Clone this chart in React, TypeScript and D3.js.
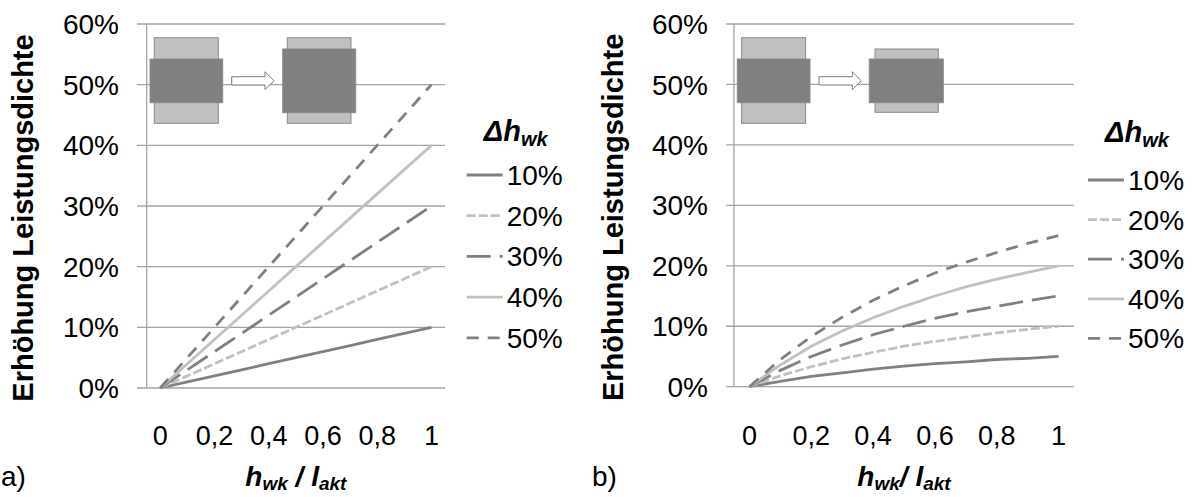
import React from "react";
import * as d3 from "d3";

// x categories (h_wk / l_akt), every second one is labelled
const xValues = [0, 0.1, 0.2, 0.3, 0.4, 0.5, 0.6, 0.7, 0.8, 0.9, 1];
const xTickLabels = ["0", "", "0,2", "", "0,4", "", "0,6", "", "0,8", "", "1"];
const yTicks = [0, 0.1, 0.2, 0.3, 0.4, 0.5, 0.6];
const seriesNames = ["10%", "20%", "30%", "40%", "50%"];

// a) values in %
const a10 = [0, 1, 2, 3, 4, 5, 6, 7, 8, 9, 10];
const a20 = [0, 2, 4, 6, 8, 10, 12, 14, 16, 18, 20];
const a30 = [0, 3, 6, 9, 12, 15, 18, 21, 24, 27, 30];
const a40 = [0, 4, 8, 12, 16, 20, 24, 28, 32, 36, 40];
const a50 = [0, 5, 10, 15, 20, 25, 30, 35, 40, 45, 50];

// b) values in %
const b10 = [0, 0.9, 1.7, 2.3, 2.9, 3.4, 3.8, 4.1, 4.5, 4.7, 5.0];
const b20 = [0, 1.8, 3.3, 4.6, 5.7, 6.7, 7.5, 8.2, 8.9, 9.5, 10.0];
const b30 = [0, 2.7, 5.0, 6.9, 8.6, 10.0, 11.3, 12.4, 13.3, 14.2, 15.0];
const b40 = [0, 3.6, 6.7, 9.2, 11.4, 13.3, 15.0, 16.5, 17.8, 18.9, 20.0];
const b50 = [0, 4.5, 8.3, 11.5, 14.3, 16.7, 18.8, 20.6, 22.2, 23.7, 25.0];

const DARK = "#808080";
const LIGHT = "#c0c0c0";
const GRID = "#a3a3a3";
const FONT = "'Liberation Sans', Arial, sans-serif";

const lineStyles = [
  { color: DARK, dash: null },
  { color: LIGHT, dash: "9,3" },
  { color: DARK, dash: "24,9" },
  { color: LIGHT, dash: null },
  { color: DARK, dash: "12,9" },
];

const panels = [
  {
    label: "a)",
    labelX: 1,
    series: [a10, a20, a30, a40, a50],
    axisX: 146.7,
    gridX0: 137,
    gridX1: 445,
    yBottom: 388,
    yTop: 24,
    yTitleX: 33,
    tickEndX: 119,
    legendX: 466.7,
    legendY0: 175,
    legendStep: 40.7,
    titleY: 141,
    slash: " / ",
    block2: { light: [140.6, 37.7, 63.7, 85.6], dark: [136, 49, 73, 63.7] },
  },
  {
    label: "b)",
    labelX: 592,
    series: [b10, b20, b30, b40, b50],
    axisX: 734,
    gridX0: 726,
    gridX1: 1074,
    yBottom: 386.7,
    yTop: 24,
    yTitleX: 623.3,
    tickEndX: 708,
    legendX: 1088,
    legendY0: 180,
    legendStep: 39.6,
    titleY: 142,
    slash: "/ ",
    block2: { light: [141, 49, 63.3, 63.3], dark: [135.3, 59, 74, 43.7] },
  },
];

function Panel({ p }: { p: any }) {
  const x = d3
    .scaleBand<number>()
    .domain(xValues)
    .range([p.axisX, p.gridX1])
    .paddingInner(0)
    .paddingOuter(0);
  const cx = (v: number) => (x(v) as number) + x.bandwidth() / 2;
  const y = d3.scaleLinear().domain([0, 0.6]).range([p.yBottom, p.yTop]);
  const line = d3
    .line<number>()
    .x((_, i) => cx(xValues[i]))
    .y((d) => y(d / 100));
  const fmt = d3.format(".0%");
  const ax = p.axisX;
  const legendLen = 36;
  const legendCenter = p.legendX + 49;
  const yMid = (p.yTop + p.yBottom) / 2 + 12;
  const xMid = (p.axisX + p.gridX1) / 2;

  return (
    <g fontFamily={FONT}>
      {/* gridlines */}
      {yTicks.map((t) => (
        <line key={t} x1={p.gridX0} x2={p.gridX1} y1={y(t)} y2={y(t)} stroke={GRID} strokeWidth={1.3} />
      ))}
      <line x1={ax} x2={ax} y1={y(0.6)} y2={y(0)} stroke={GRID} strokeWidth={1.3} />
      {yTicks.map((t) => (
        <text key={t} x={p.tickEndX} y={y(t)} dy="0.36em" textAnchor="end" fontSize={28} fill="#000">
          {fmt(t)}
        </text>
      ))}
      {xValues.map((v, i) =>
        xTickLabels[i] ? (
          <text key={v} x={cx(v)} y={445} textAnchor="middle" fontSize={27} fill="#000">
            {xTickLabels[i]}
          </text>
        ) : null
      )}

      {/* sketch of the geometry */}
      <rect x={ax + 7.6} y={37.7} width={64} height={85.6} fill={LIGHT} stroke="#8a8a8a" strokeWidth={1} />
      <rect x={ax + 3.3} y={59} width={72.7} height={43.7} fill={DARK} stroke="#8a8a8a" strokeWidth={1} />
      <path
        d={`M${ax + 85},${76.7} H${ax + 118.3} V${71.7} L${ax + 127.3},${80.8} L${ax + 118.3},${89.5} V${85} H${ax + 85} Z`}
        fill="#fff"
        stroke="#7a7a7a"
        strokeWidth={1}
      />
      <rect x={ax + p.block2.light[0]} y={p.block2.light[1]} width={p.block2.light[2]} height={p.block2.light[3]} fill={LIGHT} stroke="#8a8a8a" strokeWidth={1} />
      <rect x={ax + p.block2.dark[0]} y={p.block2.dark[1]} width={p.block2.dark[2]} height={p.block2.dark[3]} fill={DARK} stroke="#8a8a8a" strokeWidth={1} />

      {/* series */}
      {p.series.map((s: number[], i: number) => (
        <path
          key={i}
          d={line(s) as string}
          fill="none"
          stroke={lineStyles[i].color}
          strokeWidth={2.8}
          strokeDasharray={lineStyles[i].dash || undefined}
        />
      ))}

      {/* legend */}
      <text x={legendCenter} y={p.titleY} textAnchor="middle" fontWeight="bold" fontStyle="italic" fill="#000">
        <tspan fontSize={29}>Δh</tspan>
        <tspan fontSize={20} dy={5}>wk</tspan>
      </text>
      {seriesNames.map((n, i) => {
        const ly = p.legendY0 + i * p.legendStep;
        return (
          <g key={n}>
            <line
              x1={p.legendX}
              x2={p.legendX + legendLen}
              y1={ly}
              y2={ly}
              stroke={lineStyles[i].color}
              strokeWidth={2.8}
              strokeDasharray={lineStyles[i].dash || undefined}
            />
            <text x={p.legendX + legendLen + 4} y={ly} dy="0.36em" fontSize={28} fill="#000">
              {n}
            </text>
          </g>
        );
      })}

      {/* axis titles */}
      <text
        transform={`translate(${p.yTitleX},${yMid}) rotate(-90)`}
        textAnchor="middle"
        fontWeight="bold"
        fontSize={29}
        fill="#000"
      >
        Erhöhung Leistungsdichte
      </text>
      <text x={xMid} y={486} textAnchor="middle" fontWeight="bold" fontStyle="italic" fill="#000">
        <tspan fontSize={28}>h</tspan>
        <tspan fontSize={19} dy={4}>wk</tspan>
        <tspan fontSize={28} dy={-4}>{p.slash}l</tspan>
        <tspan fontSize={19} dy={4}>akt</tspan>
      </text>
      <text x={p.labelX} y={486} fontSize={28} fill="#000">
        {p.label}
      </text>
    </g>
  );
}

export default function App() {
  return (
    <svg
      width={1192}
      height={497}
      style={{ position: "absolute", left: 0, top: 0, background: "#fff" }}
    >
      <rect width={1192} height={497} fill="#fff" />
      {panels.map((p) => (
        <Panel key={p.label} p={p} />
      ))}
    </svg>
  );
}
